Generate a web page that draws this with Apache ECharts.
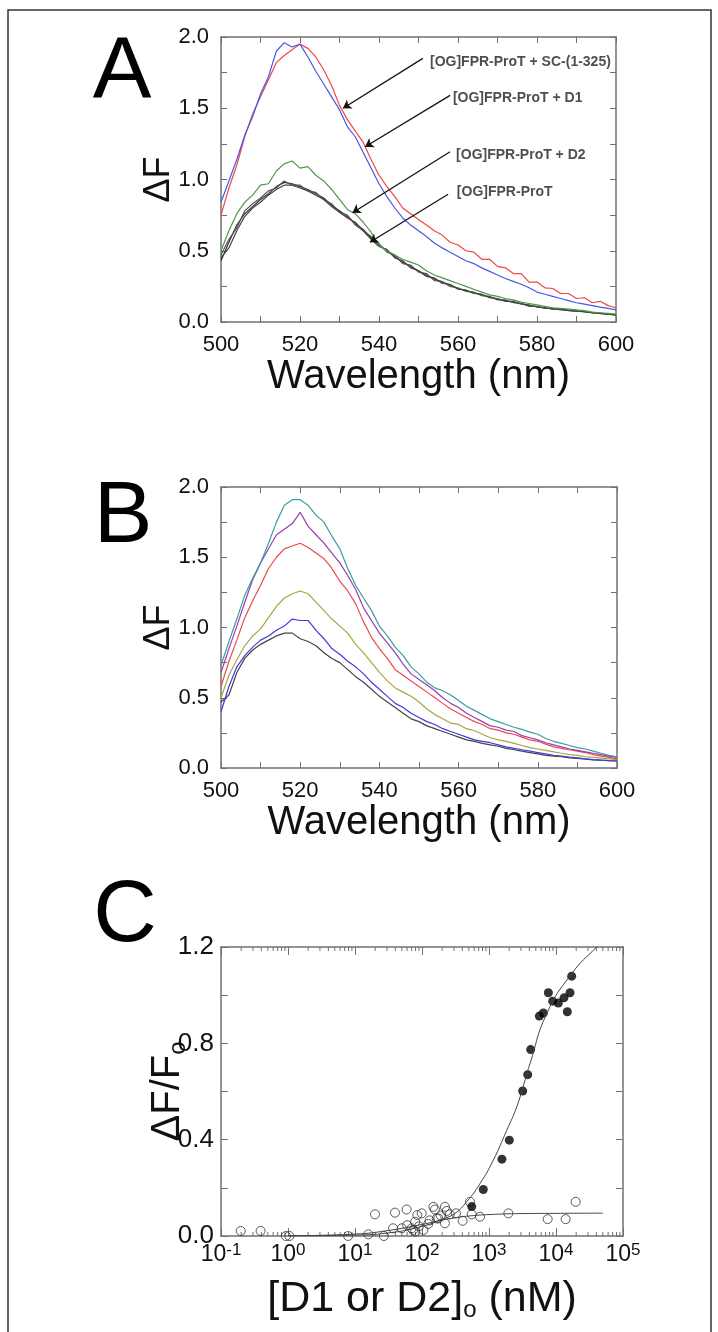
<!DOCTYPE html>
<html>
<head>
<meta charset="utf-8">
<title>OG-FPR-ProT fluorescence</title>
<script src="https://cdn.jsdelivr.net/npm/echarts@6/dist/echarts.min.js"></script>
<style>
  html, body { margin: 0; padding: 0; background: #fff; }
  #fig { width: 718px; height: 1332px; }
</style>
</head>
<body>
<div id="fig"></div>
<script>
// ---- data ----
var wavelengths = [500,502,504,506,508,510,512,514,516,518,520,522,524,526,528,530,532,534,536,538,540,
  542,544,546,548,550,552,554,556,558,560,562,564,566,568,570,572,574,576,578,580,
  582,584,586,588,590,592,594,596,598,600];

// panel A
var aSC = [0.84,0.99,1.14,1.31,1.44,1.60,1.72,1.90,1.96,1.93,1.95,1.86,1.76,1.67,1.58,1.49,1.37,1.30,1.19,1.08,0.97,
  0.88,0.80,0.73,0.68,0.64,0.60,0.555,0.52,0.49,0.46,0.43,0.41,0.38,0.355,0.33,0.305,0.285,0.265,0.24,0.21,
  0.195,0.18,0.165,0.15,0.135,0.125,0.115,0.105,0.095,0.085];
var aD1 = [0.75,0.94,1.10,1.30,1.46,1.58,1.70,1.82,1.87,1.91,1.95,1.92,1.86,1.77,1.66,1.52,1.42,1.34,1.26,1.14,1.03,
  0.95,0.88,0.80,0.76,0.72,0.68,0.64,0.61,0.56,0.54,0.50,0.49,0.44,0.44,0.39,0.38,0.34,0.34,0.28,0.28,
  0.24,0.235,0.20,0.20,0.165,0.17,0.135,0.145,0.115,0.10];
var aD2 = [0.50,0.64,0.76,0.84,0.89,0.96,0.97,1.06,1.11,1.13,1.08,1.09,1.03,0.99,0.93,0.86,0.79,0.76,0.70,0.63,0.54,
  0.50,0.47,0.44,0.42,0.40,0.36,0.33,0.31,0.29,0.27,0.25,0.23,0.21,0.19,0.18,0.165,0.155,0.14,0.13,0.12,
  0.11,0.10,0.095,0.09,0.085,0.08,0.07,0.065,0.06,0.055];
var aProT1 = [0.43,0.56,0.68,0.76,0.81,0.86,0.90,0.95,0.98,0.97,0.95,0.93,0.90,0.87,0.82,0.78,0.74,0.69,0.65,0.59,0.54,
  0.50,0.46,0.42,0.39,0.36,0.33,0.30,0.28,0.26,0.235,0.22,0.205,0.19,0.175,0.16,0.15,0.14,0.13,0.115,0.108,
  0.10,0.092,0.088,0.082,0.077,0.072,0.066,0.06,0.055,0.05];
var aProT2 = [0.47,0.58,0.66,0.78,0.83,0.87,0.92,0.94,0.99,0.96,0.96,0.92,0.91,0.86,0.83,0.77,0.75,0.68,0.64,0.60,0.55,
  0.49,0.47,0.41,0.40,0.35,0.34,0.29,0.285,0.25,0.24,0.215,0.21,0.185,0.18,0.155,0.155,0.135,0.13,0.11,0.11,
  0.095,0.095,0.085,0.085,0.075,0.074,0.064,0.062,0.053,0.052];
var aProT3 = [0.45,0.52,0.64,0.74,0.80,0.84,0.89,0.93,0.96,0.96,0.94,0.92,0.89,0.86,0.81,0.77,0.73,0.70,0.64,0.58,0.53,
  0.51,0.45,0.43,0.38,0.36,0.32,0.31,0.27,0.265,0.23,0.225,0.2,0.195,0.17,0.165,0.145,0.145,0.125,0.12,0.105,
  0.1,0.09,0.09,0.08,0.078,0.07,0.068,0.058,0.057,0.048];

// panel A annotations: [text, x, y] and arrows [x1, y1, x2, y2]
var annoText = [
  ['[OG]FPR-ProT + SC-(1-325)', 552.9, 1.827],
  ['[OG]FPR-ProT + D1', 558.7, 1.572],
  ['[OG]FPR-ProT + D2', 559.5, 1.172],
  ['[OG]FPR-ProT', 559.7, 0.912]
];
var annoArrows = [
  [551.1, 1.85, 530.9, 1.50],
  [558.0, 1.59, 536.5, 1.23],
  [558.0, 1.195, 533.3, 0.767],
  [557.5, 0.896, 537.7, 0.56]
];

// panel B (titration series)
var bTeal = [0.73,0.90,1.06,1.23,1.35,1.46,1.60,1.75,1.87,1.91,1.91,1.87,1.80,1.75,1.65,1.56,1.42,1.30,1.21,1.12,1.01,
  0.94,0.86,0.80,0.72,0.67,0.61,0.57,0.55,0.52,0.48,0.44,0.41,0.38,0.35,0.33,0.31,0.29,0.275,0.255,0.24,
  0.21,0.19,0.175,0.16,0.145,0.135,0.12,0.105,0.09,0.08];
var bPurple = [0.68,0.85,1.01,1.18,1.34,1.46,1.56,1.66,1.70,1.74,1.82,1.72,1.66,1.60,1.53,1.46,1.37,1.27,1.14,1.05,0.96,
  0.89,0.82,0.74,0.67,0.63,0.59,0.55,0.50,0.46,0.43,0.39,0.36,0.33,0.30,0.29,0.27,0.26,0.23,0.215,0.20,
  0.18,0.165,0.15,0.135,0.125,0.115,0.105,0.095,0.085,0.075];
var bRed = [0.58,0.76,0.91,1.07,1.19,1.30,1.42,1.50,1.56,1.58,1.60,1.57,1.53,1.49,1.42,1.33,1.26,1.17,1.04,0.93,0.85,
  0.78,0.70,0.66,0.62,0.58,0.54,0.50,0.46,0.42,0.39,0.36,0.33,0.31,0.28,0.27,0.25,0.24,0.22,0.20,0.19,
  0.17,0.15,0.14,0.13,0.12,0.11,0.095,0.085,0.075,0.065];
var bOlive = [0.50,0.66,0.77,0.87,0.94,0.99,1.07,1.15,1.21,1.24,1.26,1.24,1.18,1.12,1.06,1.01,0.96,0.88,0.82,0.75,0.68,
  0.62,0.57,0.54,0.51,0.47,0.42,0.38,0.35,0.32,0.31,0.28,0.265,0.24,0.215,0.20,0.19,0.175,0.16,0.145,0.135,
  0.125,0.115,0.105,0.095,0.09,0.08,0.075,0.07,0.065,0.06];
var bBlue = [0.40,0.58,0.72,0.80,0.86,0.91,0.94,0.98,1.01,1.06,1.05,1.05,0.98,0.92,0.85,0.81,0.76,0.72,0.67,0.61,0.56,
  0.51,0.46,0.43,0.39,0.36,0.33,0.31,0.28,0.26,0.24,0.22,0.20,0.19,0.18,0.165,0.15,0.14,0.13,0.12,0.11,
  0.10,0.09,0.085,0.078,0.072,0.066,0.06,0.056,0.052,0.05];
var bBlack = [0.47,0.52,0.68,0.78,0.84,0.88,0.91,0.94,0.96,0.96,0.92,0.90,0.87,0.82,0.78,0.75,0.70,0.65,0.61,0.56,0.51,
  0.47,0.43,0.39,0.35,0.33,0.30,0.28,0.26,0.24,0.22,0.20,0.19,0.175,0.165,0.155,0.14,0.13,0.12,0.11,0.10,
  0.09,0.085,0.08,0.072,0.068,0.063,0.058,0.055,0.052,0.05];

// panel C: binding data (nM, dF/Fo)
var d1Conc = [552, 822, 1560, 2010, 3180, 3780, 4190, 5640, 6470, 7690, 8930, 10840, 13150, 14760, 16180, 17140];
var d1Resp = [0.122, 0.193, 0.319, 0.398, 0.602, 0.670, 0.774, 0.913, 0.926, 1.010, 0.975, 0.967, 0.989, 0.931, 1.010, 1.079];
var d2Conc = [0.197, 0.39, 0.93, 1.05, 7.9, 15.8, 19.9, 27, 37, 39.5, 50, 59, 60, 70, 74, 79, 79, 85, 90, 99, 105,
  124, 130, 148, 156, 166, 175, 190, 220, 220, 234, 260, 321, 404, 520, 552, 734, 1945, 7510, 13930, 19670];
var d2Resp = [0.021, 0.021, 0.0, 0.0, 0.0, 0.007, 0.09, 0.0, 0.032, 0.097, 0.032, 0.11, 0.045, 0.032, 0.025, 0.059, 0.018, 0.087, 0.04, 0.094, 0.025,
  0.050, 0.065, 0.121, 0.11, 0.073, 0.073, 0.085, 0.121, 0.053, 0.104, 0.09, 0.094, 0.063, 0.142, 0.09, 0.080, 0.094, 0.070, 0.070, 0.142];
// fitted curves
var fitD1Conc = [1, 10, 30, 100, 200, 310, 464, 735, 1160, 1840, 2590, 3450, 4090, 7260, 17100, 40400, 50000];
var fitD1Resp = [0.0004, 0.004, 0.012, 0.04, 0.07, 0.094, 0.142, 0.218, 0.315, 0.439, 0.536, 0.647, 0.716, 0.923, 1.089, 1.2, 1.22];
var fitD2Conc = [1, 10, 30, 100, 200, 300, 500, 1000, 3000, 10000, 50000];
var fitD2Resp = [0.001, 0.008, 0.022, 0.048, 0.066, 0.075, 0.083, 0.089, 0.093, 0.094, 0.095];

var logMinorTicks = [0.2,0.3,0.4,0.5,0.6,0.7,0.8,0.9, 2,3,4,5,6,7,8,9, 20,30,40,50,60,70,80,90,
  200,300,400,500,600,700,800,900, 2000,3000,4000,5000,6000,7000,8000,9000,
  20000,30000,40000,50000,60000,70000,80000,90000];

// ---- chart ----
var FONT = 'Liberation Sans, Arial, sans-serif';
var AXC = '#707070';
var chart = echarts.init(document.getElementById('fig'));

function pairs(xs, ys) {
  return xs.map(function (x, i) { return [x, ys[i]]; });
}

function specLine(name, vals, color, xi, yi) {
  return {
    name: name, type: 'line', xAxisIndex: xi, yAxisIndex: yi,
    data: pairs(wavelengths, vals), showSymbol: false, silent: true,
    lineStyle: { color: color, width: 1.2 }
  };
}

function wlAxis(grid, pos) {
  return {
    type: 'value', gridIndex: grid, position: pos, min: 500, max: 600, interval: 10,
    axisLine: { onZero: false, lineStyle: { color: AXC, width: 1.5 } },
    axisTick: { inside: true, length: 6, lineStyle: { color: AXC } },
    splitLine: { show: false },
    axisLabel: {
      show: pos === 'bottom', margin: 12, fontSize: 22, color: '#111', fontFamily: FONT,
      formatter: function (v) { return v % 20 === 0 ? String(v) : ''; }
    },
    name: pos === 'bottom' ? 'Wavelength (nm)' : '', nameLocation: 'middle', nameGap: 30,
    nameTextStyle: { fontSize: 40, color: '#111', fontFamily: FONT }
  };
}

function dfAxis(grid, pos) {
  return {
    type: 'value', gridIndex: grid, position: pos, min: 0, max: 2, interval: 0.25,
    axisLine: { onZero: false, lineStyle: { color: AXC, width: 1.5 } },
    axisTick: { inside: true, length: 6, lineStyle: { color: AXC } },
    splitLine: { show: false },
    axisLabel: {
      show: pos === 'left', margin: 12, fontSize: 22, color: '#111', fontFamily: FONT,
      formatter: function (v) {
        return Math.abs(v * 2 - Math.round(v * 2)) < 1e-6 ? v.toFixed(1) : '';
      }
    },
    name: pos === 'left' ? 'ΔF' : '', nameLocation: 'middle', nameGap: 44, nameMoveOverlap: false,
    nameTextStyle: { fontSize: 36, color: '#111', fontFamily: FONT }
  };
}

function concAxis(pos) {
  return {
    type: 'log', logBase: 10, gridIndex: 2, position: pos, min: 0.1, max: 100000, splitNumber: 6,
    axisLine: { onZero: false, lineStyle: { color: AXC, width: 1.5 } },
    axisTick: { inside: true, length: 8, lineStyle: { color: AXC } },
    splitLine: { show: false },
    axisLabel: {
      show: pos === 'bottom', margin: 6, color: '#111', fontFamily: FONT,
      formatter: function (v) {
        var e = Math.round(Math.log(v) / Math.LN10);
        return '{b|10}{s|' + e + '}';
      },
      rich: {
        b: { fontSize: 23, fontFamily: FONT, color: '#111', lineHeight: 26 },
        s: { fontSize: 17, fontFamily: FONT, color: '#111', verticalAlign: 'top', lineHeight: 17 }
      }
    },
    name: pos === 'bottom' ? '{n|[D1 or D2]}{o|o}{n| (nM)}' : '', nameLocation: 'middle', nameGap: 40,
    nameTextStyle: {
      rich: {
        n: { fontSize: 43, fontFamily: FONT, color: '#111', lineHeight: 46 },
        o: { fontSize: 24, fontFamily: FONT, color: '#111', verticalAlign: 'bottom', lineHeight: 40 }
      }
    }
  };
}

function ratioAxis(pos) {
  return {
    type: 'value', gridIndex: 2, position: pos, min: 0, max: 1.2, interval: 0.2,
    axisLine: { onZero: false, lineStyle: { color: AXC, width: 1.5 } },
    axisTick: { inside: true, length: 7, lineStyle: { color: AXC } },
    splitLine: { show: false },
    axisLabel: {
      show: pos === 'left', margin: 7, fontSize: 26, color: '#111', fontFamily: FONT,
      formatter: function (v) {
        return Math.abs(v / 0.4 - Math.round(v / 0.4)) < 1e-6 ? v.toFixed(1) : '';
      }
    },
    name: pos === 'left' ? '{n|ΔF/F}{o|o}' : '', nameLocation: 'middle', nameGap: 31, nameMoveOverlap: false,
    nameTextStyle: {
      rich: {
        n: { fontSize: 40, fontFamily: FONT, color: '#111', lineHeight: 44 },
        o: { fontSize: 24, fontFamily: FONT, color: '#111', verticalAlign: 'bottom', lineHeight: 38 }
      }
    }
  };
}

var option = {
  animation: false,
  backgroundColor: '#fff',
  grid: [
    { left: 221, top: 37, width: 395, height: 285 },
    { left: 221, top: 487, width: 396, height: 281 },
    { left: 221, top: 947, width: 402, height: 289 }
  ],
  xAxis: [wlAxis(0, 'bottom'), wlAxis(0, 'top'), wlAxis(1, 'bottom'), wlAxis(1, 'top'),
          concAxis('bottom'), concAxis('top')],
  yAxis: [dfAxis(0, 'left'), dfAxis(0, 'right'), dfAxis(1, 'left'), dfAxis(1, 'right'),
          ratioAxis('left'), ratioAxis('right')],
  graphic: [
    { type: 'rect', shape: { x: 8, y: 10, width: 703, height: 1340 },
      style: { fill: 'none', stroke: '#333', lineWidth: 1.5 }, silent: true },
    { type: 'text', x: 122, y: 74, style: { text: 'A', font: '88px ' + FONT, fill: '#000',
      textAlign: 'center', textVerticalAlign: 'middle' } },
    { type: 'text', x: 123, y: 518, style: { text: 'B', font: '88px ' + FONT, fill: '#000',
      textAlign: 'center', textVerticalAlign: 'middle' } },
    { type: 'text', x: 125, y: 917, style: { text: 'C', font: '88px ' + FONT, fill: '#000',
      textAlign: 'center', textVerticalAlign: 'middle' } }
  ],
  series: [
    specLine('ProT-1', aProT1, '#333', 0, 0),
    specLine('ProT-2', aProT2, '#555', 0, 0),
    specLine('ProT-3', aProT3, '#444', 0, 0),
    specLine('D2', aD2, '#4c9a4c', 0, 0),
    specLine('D1', aD1, '#f04646', 0, 0),
    specLine('SC', aSC, '#4658e6', 0, 0),
    {
      name: 'labels', type: 'scatter', xAxisIndex: 0, yAxisIndex: 0, silent: true,
      symbolSize: 0.1, itemStyle: { color: 'rgba(0,0,0,0)' },
      label: { show: true, position: 'right', distance: 0, formatter: '{b}',
        fontSize: 14, fontWeight: 'bold', color: '#222', fontFamily: FONT },
      data: annoText.map(function (a) { return { name: a[0], value: [a[1], a[2]] }; }),
      markLine: {
        silent: true, symbol: ['none', 'arrow'], symbolSize: 8,
        lineStyle: { color: '#111', width: 1.3, type: 'solid' },
        label: { show: false },
        data: annoArrows.map(function (a) {
          return [{ coord: [a[0], a[1]] }, { coord: [a[2], a[3]] }];
        })
      }
    },
    specLine('B1', bBlack, '#454545', 2, 2),
    specLine('B2', bBlue, '#3c3ce0', 2, 2),
    specLine('B3', bOlive, '#a8a640', 2, 2),
    specLine('B4', bRed, '#ec4a4a', 2, 2),
    specLine('B5', bPurple, '#9a3cb0', 2, 2),
    specLine('B6', bTeal, '#3c9e9e', 2, 2),
    {
      name: 'fit D2', type: 'line', xAxisIndex: 4, yAxisIndex: 4, smooth: true, showSymbol: false,
      silent: true, data: pairs(fitD2Conc, fitD2Resp), lineStyle: { color: '#444', width: 1 }
    },
    {
      name: 'fit D1', type: 'line', xAxisIndex: 4, yAxisIndex: 4, smooth: true, showSymbol: false,
      silent: true, data: pairs(fitD1Conc, fitD1Resp), lineStyle: { color: '#444', width: 1 }
    },
    {
      name: 'D2 data', type: 'scatter', xAxisIndex: 4, yAxisIndex: 4, silent: true,
      symbol: 'circle', symbolSize: 9, data: pairs(d2Conc, d2Resp),
      itemStyle: { color: 'rgba(255,255,255,0)', borderColor: '#333', borderWidth: 1 }
    },
    {
      name: 'D1 data', type: 'scatter', xAxisIndex: 4, yAxisIndex: 4, silent: true,
      symbol: 'circle', symbolSize: 9, data: pairs(d1Conc, d1Resp),
      itemStyle: { color: '#000' }
    },
    {
      name: 'minor ticks', type: 'custom', xAxisIndex: 4, yAxisIndex: 4, silent: true, clip: false,
      data: logMinorTicks.map(function (v) { return [v, 0]; }),
      renderItem: function (params, api) {
        var v = api.value(0);
        var b = api.coord([v, 0]);
        var t = api.coord([v, 1.2]);
        var st = { stroke: AXC, lineWidth: 1 };
        return { type: 'group', children: [
          { type: 'line', shape: { x1: b[0], y1: b[1], x2: b[0], y2: b[1] - 4 }, style: st },
          { type: 'line', shape: { x1: t[0], y1: t[1], x2: t[0], y2: t[1] + 4 }, style: st }
        ] };
      }
    }
  ]
};

chart.setOption(option);
</script>
</body>
</html>
